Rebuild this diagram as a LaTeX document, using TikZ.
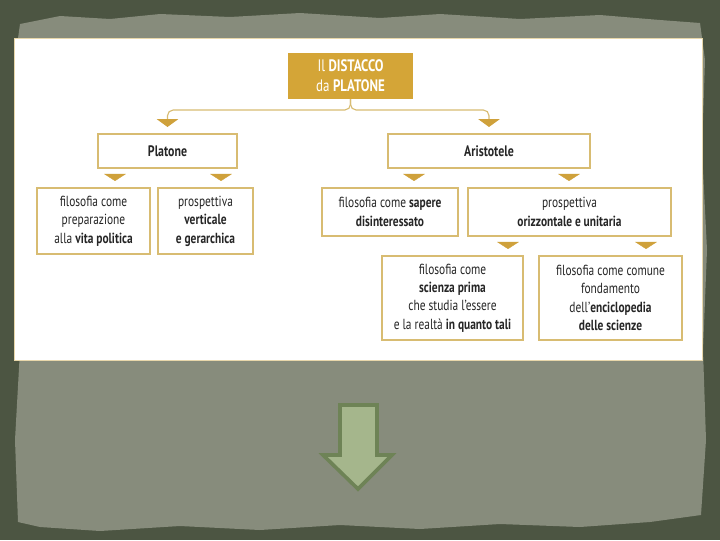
\documentclass[tikz,border=0pt]{standalone}
\usepackage{fontspec}
\setmainfont[FakeStretch=0.78]{PT Sans}
\usepackage{tikz}
\usetikzlibrary{arrows.meta,positioning,calc}
\definecolor{dstGold}{HTML}{D4A537}
\definecolor{dstLine}{HTML}{D8BC72}
\definecolor{dstTip}{HTML}{CFA13B}
\definecolor{dstText}{HTML}{262626}
\definecolor{dstSlate}{HTML}{4C5542}
\definecolor{dstPaper}{HTML}{878C7C}
\definecolor{dstArrow}{HTML}{A5B68C}
\definecolor{dstArrowRim}{HTML}{6E8356}
\tikzset{
  dsttitle/.style={rectangle, fill=dstGold, text=white, align=center,
    minimum width=3.125cm, minimum height=1.15cm, inner sep=0pt, outer sep=0pt,
    font=\fontsize{11.8}{14}\selectfont},
  dsthead/.style={rectangle, draw=dstLine, line width=0.9pt, fill=white, text=dstText,
    minimum height=0.85cm, inner sep=0pt, outer sep=0pt,
    font=\fontsize{10.8}{13}\selectfont\bfseries},
  dstleaf/.style={rectangle, draw=dstLine, line width=0.9pt, fill=white, text=dstText,
    align=center, inner sep=0pt, outer sep=0pt, font=\fontsize{10.4}{13.1}\selectfont},
  dstline/.style={draw=dstLine, line width=0.8pt, rounded corners=4pt,
    shorten >=5pt, -{Triangle[width=15pt,length=5.5pt,color=dstTip]}},
  dsttip/.style={draw=white, line width=0.2pt, shorten <=4.2pt, shorten >=5pt,
    -{Triangle[width=15.5pt,length=5pt,color=dstTip]}}
}
\begin{document}
\begin{tikzpicture}[x=0.025cm, y=-0.025cm]
% slide background
\fill[dstSlate] (0,0) rectangle (720,540);
\fill[dstPaper] (20,24) -- (60,16) -- (110,19) -- (160,14) -- (230,17) -- (300,13)
  -- (380,18) -- (440,14) -- (520,19) -- (600,15) -- (660,20) -- (700,23)
  -- (705,60) -- (702,150) -- (707,250) -- (703,350) -- (706,440) -- (701,515)
  -- (650,522) -- (580,527) -- (500,524) -- (420,529) -- (340,525) -- (260,530)
  -- (180,526) -- (100,531) -- (40,527) -- (18,522)
  -- (15,440) -- (20,350) -- (14,250) -- (19,150) -- (15,60) -- cycle;
\filldraw[fill=white, draw=dstLine!60, line width=0.4pt] (14,38) rectangle (702,360);
\useasboundingbox (0,0) rectangle (720,540);

% map
\node[dsttitle] (dist) at (350.5,76) {Il \textbf{DISTACCO}\\da \textbf{PLATONE}};
\node[dsthead, minimum width=3.475cm] (pl) at (167.5,151) {Platone};
\node[dsthead, minimum width=5.05cm] (ar) at (489,151) {Aristotele};

\node[dstleaf, minimum width=2.825cm, minimum height=1.65cm] (fp) at (93.5,221)
  {filosofia come\\preparazione\\alla \textbf{vita politica}};
\node[dstleaf, minimum width=2.375cm, minimum height=1.65cm] (pv) at (205.5,221)
  {prospettiva\\\textbf{verticale}\\\textbf{e gerarchica}};
\node[dstleaf, minimum width=3.4cm, minimum height=1.2cm] (sd) at (390,212)
  {filosofia come \textbf{sapere}\\\textbf{disinteressato}};
\node[dstleaf, minimum width=5.075cm, minimum height=1.2cm] (po) at (569.5,212)
  {prospettiva\\\textbf{orizzontale e unitaria}};
\node[dstleaf, minimum width=3.525cm, minimum height=2.1cm] (sp) at (452.5,298)
  {filosofia come\\\textbf{scienza prima}\\che studia l’essere\\e la realtà \textbf{in quanto tali}};
\node[dstleaf, minimum width=3.575cm, minimum height=2.1cm] (ef) at (610.5,298)
  {filosofia come comune\\fondamento\\dell’\textbf{enciclopedia}\\\textbf{delle scienze}};

\draw[dstline] (dist.south) -- ++(0,11) -| (pl.north);
\draw[dstline] (dist.south) -- ++(0,11) -| (ar.north);

\draw[dsttip] (pl.south -| 115,0) -- (fp.north -| 115,0);
\draw[dsttip] (pl.south -| 221,0) -- (pv.north -| 221,0);
\draw[dsttip] (ar.south -| 414,0) -- (sd.north -| 414,0);
\draw[dsttip] (ar.south -| 569,0) -- (po.north -| 569,0);
\draw[dsttip] (po.south -| 508,0) -- (sp.north -| 508,0);
\draw[dsttip] (po.south -| 646,0) -- (ef.north -| 646,0);

% down arrow
\filldraw[fill=dstArrow, draw=dstArrowRim, line width=2.6pt, line join=miter]
  (340,405) -- (377,405) -- (377,455) -- (392,455) -- (358,489) -- (323,455)
  -- (340,455) -- cycle;
\end{tikzpicture}
\end{document}
